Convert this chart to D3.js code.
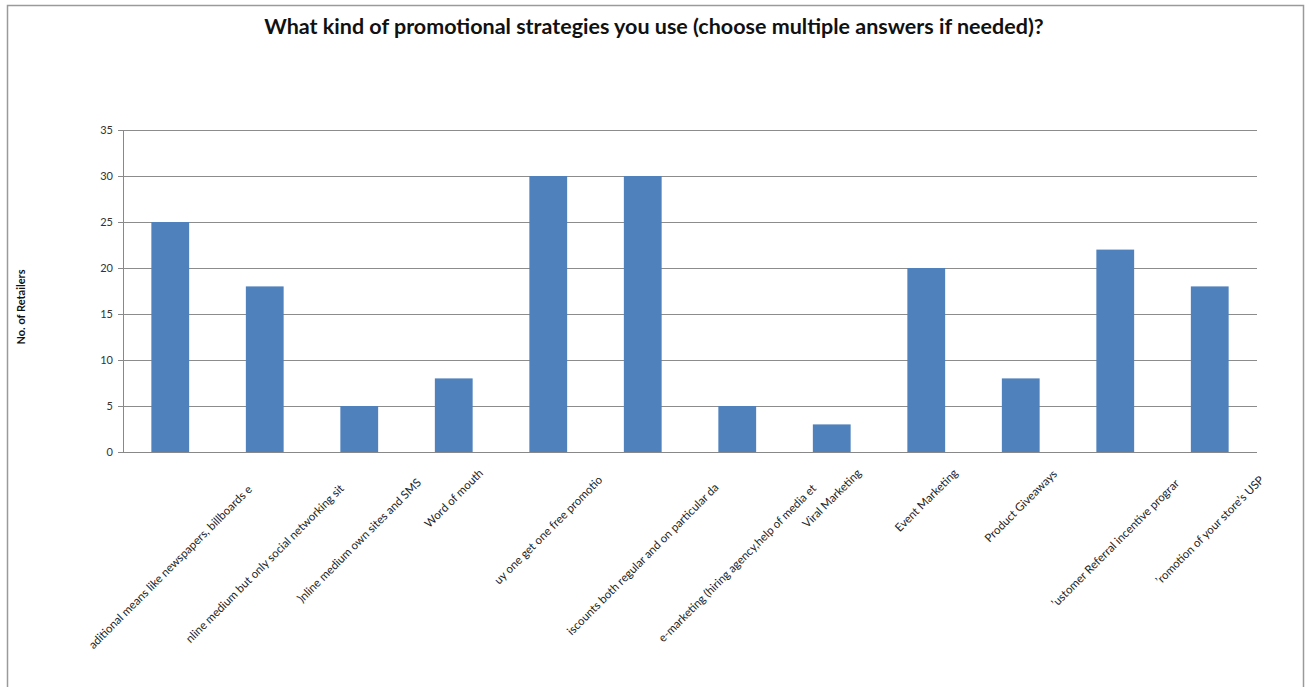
<!DOCTYPE html>
<html>
<head>
<meta charset="utf-8">
<script src="https://cdn.jsdelivr.net/npm/d3@7"></script>
<style>
  html, body { margin: 0; padding: 0; background: #fff; }
  svg { display: block; }
</style>
</head>
<body>
<svg id="chart" width="1309" height="687"></svg>
<script>
// Category labels as they appear under the axis (long names are cut by the label box)
const categories = [
  "aditional means like newspapers, billboards e",
  "nline medium but only social networking sit",
  ")nline medium own sites and SMS",
  "Word of mouth",
  "uy one get one free promotio",
  "iscounts both regular and on particular da",
  "e-marketing (hiring agency,help of media et",
  "Viral Marketing",
  "Event Marketing",
  "Product Giveaways",
  "’ustomer Referral incentive prograr",
  "’romotion of your store’s USP"
];
// Number of retailers using each strategy
const retailers = [25, 18, 5, 8, 30, 30, 5, 3, 20, 8, 22, 18];
const yTicks = [0, 5, 10, 15, 20, 25, 30, 35];
const chartTitle = "What kind of promotional strategies you use (choose multiple answers if needed)?";
const yAxisTitle = "No. of Retailers";

const svg = d3.select("#chart");
const plot = { left: 123, right: 1257, top: 130, bottom: 452 };
const font = "Lato, 'Open Sans', 'DejaVu Sans', sans-serif";

// Outer frame of the chart area
svg.append("rect")
  .attr("x", 7.5).attr("y", 5.5)
  .attr("width", 1296).attr("height", 700)
  .attr("fill", "#fff")
  .attr("stroke", "#9a9a9a").attr("stroke-width", 1.5);

const x = d3.scaleBand()
  .domain(d3.range(categories.length))
  .range([plot.left, plot.right])
  .paddingInner(0.6).paddingOuter(0.3);

const y = d3.scaleLinear()
  .domain([0, 35])
  .range([plot.bottom, plot.top]);

// Horizontal gridlines + y axis
const yAxis = d3.axisLeft(y)
  .tickValues(yTicks)
  .tickSize(5)
  .tickPadding(5)
  .tickFormat(d3.format("d"));

const gy = svg.append("g")
  .attr("transform", `translate(${plot.left},0)`)
  .call(yAxis);
gy.select(".domain").attr("stroke", "#888").attr("stroke-width", 1);
gy.selectAll(".tick line").attr("stroke", "#888");
gy.selectAll(".tick text")
  .attr("fill", "#333")
  .style("font-family", font)
  .style("font-size", "11px");

svg.append("g")
  .selectAll("line")
  .data(yTicks.filter(d => d > 0))
  .join("line")
  .attr("x1", plot.left).attr("x2", plot.right)
  .attr("y1", d => Math.round(y(d)) + 0.5)
  .attr("y2", d => Math.round(y(d)) + 0.5)
  .attr("stroke", "#8c8c8c").attr("stroke-width", 1);

// Bars
svg.append("g")
  .selectAll("rect")
  .data(retailers)
  .join("rect")
  .attr("x", (d, i) => x(i))
  .attr("width", x.bandwidth())
  .attr("y", d => y(d))
  .attr("height", d => y(0) - y(d))
  .attr("fill", "#4f81bd");

// Category axis line
svg.append("line")
  .attr("x1", plot.left).attr("x2", plot.right)
  .attr("y1", plot.bottom + 0.5).attr("y2", plot.bottom + 0.5)
  .attr("stroke", "#888").attr("stroke-width", 1);

// Rotated category labels, centred on each band
const lab = svg.append("g")
  .selectAll("g")
  .data(categories)
  .join("g");

lab.append("text")
  .text(d => d)
  .attr("text-anchor", "middle")
  .attr("dy", "0.35em")
  .attr("fill", "#222")
  .style("font-family", font)
  .style("font-size", "11.5px");

lab.each(function(d, i) {
  const g = d3.select(this);
  const L = g.select("text").node().getComputedTextLength();
  const half = L / 2 * Math.SQRT1_2;
  const extra = Math.max(0, 0.12 * (L - 90));
  const cx = x(i) + x.bandwidth() / 2;
  const cy = 471 + half + extra;
  g.attr("transform", `translate(${cx},${cy}) rotate(-45)`);
});

// Title
svg.append("text")
  .attr("x", 654).attr("y", 34)
  .attr("text-anchor", "middle")
  .attr("fill", "#111")
  .style("font-family", font)
  .style("font-weight", "bold")
  .style("font-size", "21.5px")
  .text(chartTitle);

// Y axis title
svg.append("text")
  .attr("transform", "translate(25,307) rotate(-90)")
  .attr("text-anchor", "middle")
  .attr("fill", "#111")
  .style("font-family", font)
  .style("font-weight", "bold")
  .style("font-size", "11px")
  .text(yAxisTitle);
</script>
</body>
</html>
